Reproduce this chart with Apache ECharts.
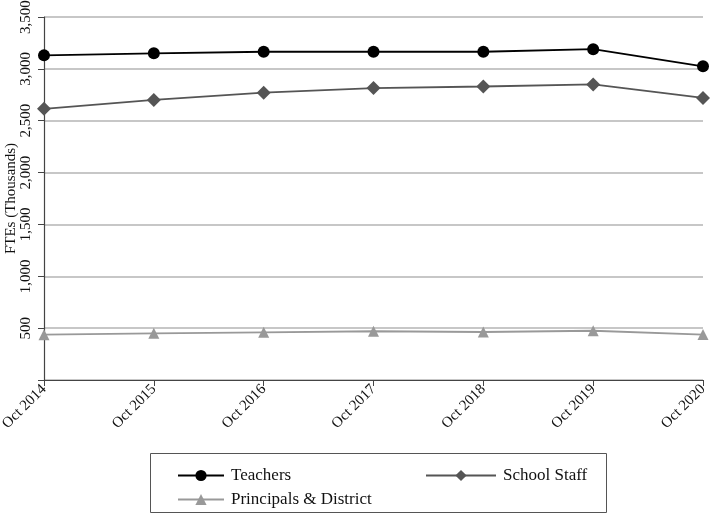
<!DOCTYPE html>
<html><head><meta charset="utf-8">
<script src="https://cdn.jsdelivr.net/npm/echarts@6/dist/echarts.min.js"></script>
<style>html,body{margin:0;padding:0;background:#fff}#c{width:713px;height:516px}</style>
</head><body><div id="c"></div>
<script>
const categories = ['Oct 2014','Oct 2015','Oct 2016','Oct 2017','Oct 2018','Oct 2019','Oct 2020'];
const teachers = [3130, 3150, 3165, 3165, 3165, 3190, 3025];
const schoolStaff = [2615, 2700, 2770, 2815, 2830, 2850, 2720];
const principals = [437, 450, 460, 470, 463, 475, 438];
const yTicks = [0, 500, 1000, 1500, 2000, 2500, 3000, 3500];

const font = 'Liberation Serif';
const chart = echarts.init(document.getElementById('c'));
chart.setOption({
  animation: false,
  textStyle: {fontFamily: font},
  grid: {left: 44, right: 10, top: 17, bottom: 136, containLabel: false, outerBoundsMode: 'none'},
  xAxis: {
    type: 'category', data: categories, boundaryGap: false,
    axisLine: {lineStyle: {color: '#444', width: 1.2}},
    axisTick: {show: true, length: 6, lineStyle: {color: '#444'}, alignWithLabel: true},
    axisLabel: {rotate: 45, fontFamily: font, fontSize: 15, color: '#111', margin: 7, interval: 0},
    splitLine: {show: false}
  },
  yAxis: {
    type: 'value', min: yTicks[0], max: yTicks[yTicks.length-1], interval: 500,
    name: 'FTEs (Thousands)', nameLocation: 'middle', nameGap: 33, nameRotate: 90,
    nameMoveOverlap: false,
    nameTextStyle: {fontFamily: font, fontSize: 15, color: '#111', verticalAlign: 'middle'},
    axisLine: {show: true, lineStyle: {color: '#444', width: 1.2}},
    axisTick: {show: true, length: 6, lineStyle: {color: '#444'}},
    axisLabel: {rotate: 90, fontFamily: font, fontSize: 15, color: '#111', margin: 10,
      formatter: v => v === 0 ? '' : v.toLocaleString('en-US')},
    splitLine: {show: true, lineStyle: {color: '#b4b4b4', width: 1.5}}
  },
  legend: [
    {orient: 'vertical', left: 172, top: 462, itemWidth: 46, itemHeight: 14, itemGap: 7,
     data: ['Teachers', 'Principals & District'],
     textStyle: {fontFamily: font, fontSize: 17, color: '#111', padding: [0,0,0,2]}},
    {orient: 'vertical', left: 420, top: 462, itemWidth: 70, itemHeight: 14, itemGap: 7,
     data: ['School Staff'],
     textStyle: {fontFamily: font, fontSize: 17, color: '#111', padding: [0,0,0,2]}}
  ],
  graphic: [{type: 'rect', shape: {x: 150.5, y: 453.5, width: 456, height: 59},
    style: {fill: 'none', stroke: '#555', lineWidth: 1}, silent: true}],
  series: [
    {name: 'Teachers', type: 'line', data: teachers, symbol: 'circle', symbolSize: 12,
     lineStyle: {color: '#000', width: 1.8}, itemStyle: {color: '#000'}, z: 4},
    {name: 'School Staff', type: 'line', data: schoolStaff, symbol: 'diamond', symbolSize: 14,
     lineStyle: {color: '#555', width: 1.8}, itemStyle: {color: '#555'}, z: 3},
    {name: 'Principals & District', type: 'line', data: principals, symbol: 'triangle', symbolSize: 11,
     lineStyle: {color: '#999', width: 1.8}, itemStyle: {color: '#999'}, z: 2}
  ]
});
</script></body></html>
